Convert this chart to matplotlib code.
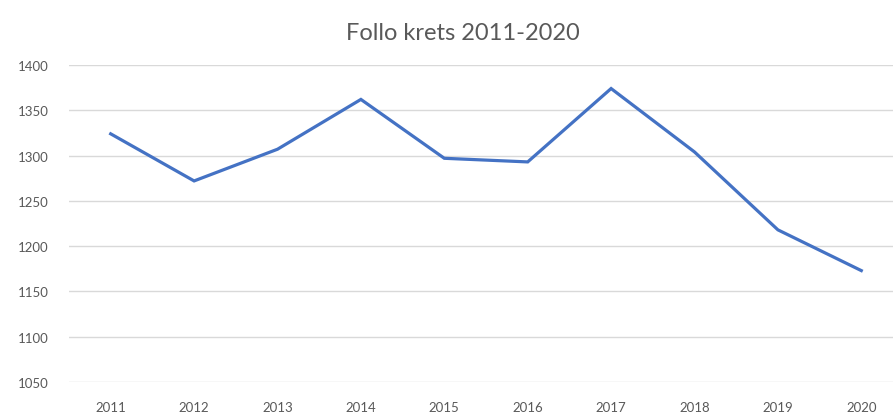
import matplotlib
matplotlib.use("Agg")
import matplotlib.pyplot as plt

years = ['2011', '2012', '2013', '2014', '2015', '2016', '2017', '2018', '2019', '2020']
values = [1324, 1272, 1307, 1362, 1297, 1293, 1374, 1304, 1218, 1173]
yticks = [1050, 1100, 1150, 1200, 1250, 1300, 1350, 1400]

plt.rcParams['font.family'] = ['Lato', 'DejaVu Sans']

W, H = 893, 414
fig = plt.figure(figsize=(W / 100, H / 100), dpi=100)
# plot area runs a bit past the right edge, as in the reference
ax = fig.add_axes([69 / W, 31 / H, 834 / W, 317 / H])

x = range(len(years))
ax.plot(x, values, color='#4472C4', linewidth=2.3, solid_joinstyle='miter')

ax.set_xlim(-0.5, len(years) - 0.5)
ax.set_ylim(1050, 1400)
ax.set_xticks(list(x))
ax.set_xticklabels(years)
ax.set_yticks(yticks)
ax.tick_params(axis='both', length=0, labelsize=9.5, colors='#595959')
ax.tick_params(axis='y', pad=26)
ax.tick_params(axis='x', pad=14)
for lbl in ax.get_yticklabels():
    lbl.set_horizontalalignment('center')
ax.grid(axis='y', color='#D9D9D9', linewidth=1)
ax.set_axisbelow(True)
for s in ax.spines.values():
    s.set_visible(False)

fig.text(463 / W, 1 - 33 / H, 'Follo krets 2011-2020', ha='center', va='center',
         fontsize=17, color='#595959')

fig.savefig('out.png', dpi=100)
